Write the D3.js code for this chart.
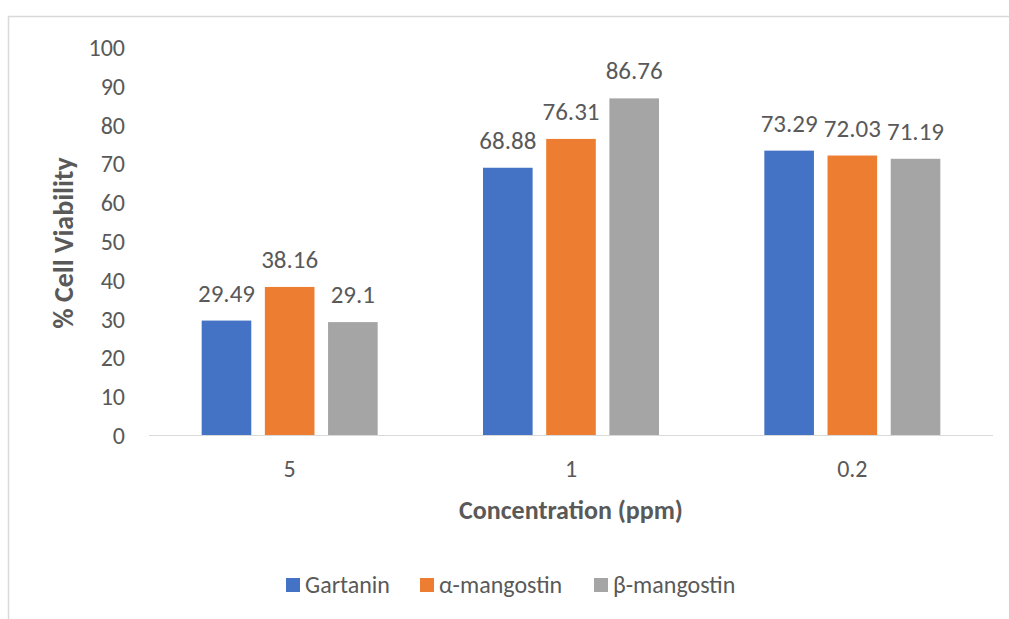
<!DOCTYPE html>
<html>
<head>
<meta charset="utf-8">
<script src="https://cdn.jsdelivr.net/npm/d3@7"></script>
<style>
  html, body { margin: 0; padding: 0; background: #fff; }
  svg { display: block; font-family: Carlito, Lato, "Open Sans", sans-serif; }
</style>
</head>
<body>
<svg id="chart" width="1009" height="619"></svg>
<script>
// Cell viability per concentration for three xanthones
const concentrations = ["5", "1", "0.2"];
const seriesNames = ["Gartanin", "α-mangostin", "β-mangostin"];
const gartanin = [29.49, 68.88, 73.29];
const alphaMangostin = [38.16, 76.31, 72.03];
const betaMangostin = [29.1, 86.76, 71.19];
const yTicks = [0, 10, 20, 30, 40, 50, 60, 70, 80, 90, 100];
const colors = ["#4472C4", "#ED7D31", "#A5A5A5"];

const seriesValues = [gartanin, alphaMangostin, betaMangostin];
const rows = concentrations.map((c, i) => ({
  conc: c,
  values: seriesNames.map((s, j) => ({ series: s, value: seriesValues[j][i], idx: j }))
}));

const svg = d3.select("#chart");
const textColor = "#595959";

// outer frame (top and left edges visible)
svg.append("path")
  .attr("d", "M8.5,619 V16.5 H1009")
  .attr("fill", "none")
  .attr("stroke", "#d9d9d9")
  .attr("stroke-width", 1.5);

const plot = { left: 149, right: 993, top: 47, bottom: 435 };

const x0 = d3.scaleBand()
  .domain(concentrations)
  .range([plot.left, plot.right])
  .paddingInner(0)
  .paddingOuter(0);

const groupWidth = 176;
const x1 = d3.scaleBand()
  .domain(seriesNames)
  .range([0, groupWidth])
  .paddingInner(0.215)
  .paddingOuter(0);

const y = d3.scaleLinear().domain([0, 100]).range([plot.bottom, plot.top]);

// y-axis tick labels
const yAxis = d3.axisLeft(y).tickValues(yTicks).tickSize(0).tickPadding(0);
const gy = svg.append("g")
  .attr("transform", `translate(${plot.left - 24},0)`)
  .call(yAxis);
gy.select(".domain").remove();
gy.selectAll("text")
  .attr("fill", textColor)
  .attr("font-size", 24)
  .attr("dy", "0.35em")
  .style("font-family", "Carlito, Lato, sans-serif");

// x baseline
svg.append("line")
  .attr("x1", plot.left).attr("x2", plot.right)
  .attr("y1", y(0) + 0.5).attr("y2", y(0) + 0.5)
  .attr("stroke", "#d9d9d9").attr("stroke-width", 1);

// x-axis category labels
const xAxis = d3.axisBottom(x0).tickSize(0).tickPadding(0);
const gx = svg.append("g")
  .attr("transform", `translate(0,${plot.bottom})`)
  .call(xAxis);
gx.select(".domain").remove();
gx.selectAll("text")
  .attr("fill", textColor)
  .attr("font-size", 24)
  .attr("y", 0)
  .attr("dy", 0)
  .attr("transform", "translate(0,42)")
  .style("font-family", "Carlito, Lato, sans-serif");

// bars
const groups = svg.append("g").selectAll("g")
  .data(rows)
  .join("g")
  .attr("transform", d => `translate(${x0(d.conc) + (x0.bandwidth() - groupWidth) / 2},0)`);

groups.selectAll("rect")
  .data(d => d.values)
  .join("rect")
  .attr("x", d => x1(d.series))
  .attr("width", x1.bandwidth())
  .attr("y", d => y(d.value))
  .attr("height", d => y(0) - y(d.value))
  .attr("fill", d => colors[d.idx]);

// value labels
groups.selectAll("text.val")
  .data(d => d.values)
  .join("text")
  .attr("class", "val")
  .attr("x", d => x1(d.series) + x1.bandwidth() / 2)
  .attr("y", d => y(d.value) - 19)
  .attr("text-anchor", "middle")
  .attr("fill", textColor)
  .attr("font-size", 25)
  .text(d => d.value);

// axis titles
svg.append("text")
  .attr("transform", `translate(73,243) rotate(-90)`)
  .attr("text-anchor", "middle")
  .attr("fill", textColor)
  .attr("font-size", 28)
  .attr("font-weight", "bold")
  .text("% Cell Viability");

svg.append("text")
  .attr("x", (plot.left + plot.right) / 2)
  .attr("y", 519)
  .attr("text-anchor", "middle")
  .attr("fill", textColor)
  .attr("font-size", 26)
  .attr("font-weight", "bold")
  .text("Concentration (ppm)");

// legend
const legendX = [286, 420, 594];
const legend = svg.append("g").selectAll("g")
  .data(seriesNames)
  .join("g")
  .attr("transform", (d, i) => `translate(${legendX[i]},578)`);
legend.append("rect")
  .attr("width", 14).attr("height", 14)
  .attr("fill", (d, i) => colors[i]);
legend.append("text")
  .attr("x", 19)
  .attr("y", 15)
  .attr("fill", textColor)
  .attr("font-size", 24)
  .text(d => d);
</script>
</body>
</html>
